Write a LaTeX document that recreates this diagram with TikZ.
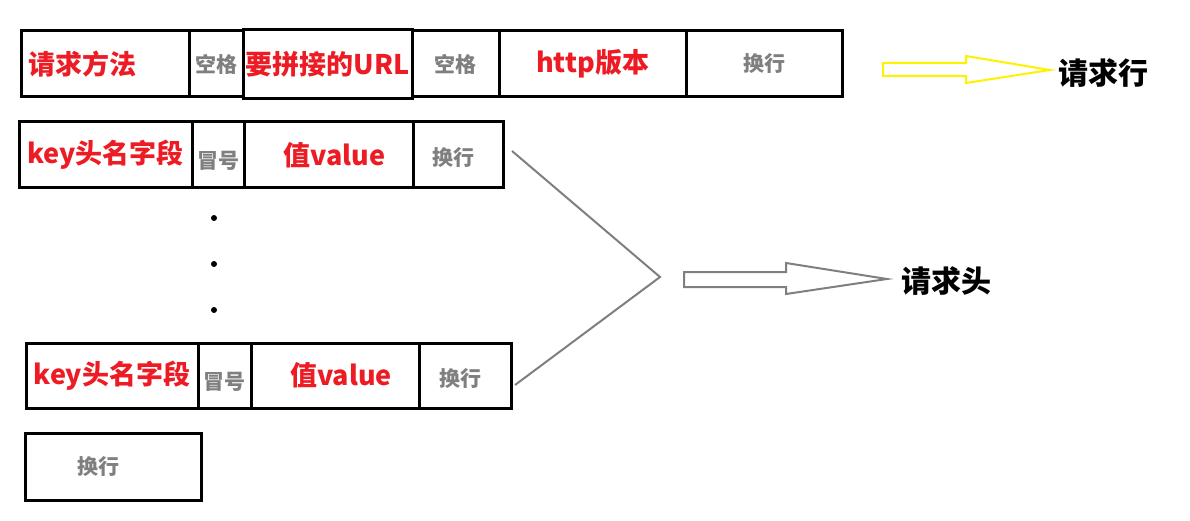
\documentclass[tikz,border=0pt]{standalone}
\usepackage{fontspec}
\setmainfont{Noto Sans CJK SC}
\usetikzlibrary{positioning,calc}
\definecolor{mred}{RGB}{237,28,36}
\definecolor{myellow}{RGB}{255,242,0}
\definecolor{mgray}{RGB}{127,127,127}

\begin{document}
\begin{tikzpicture}[
    x=1pt, y=-1pt,
    node distance=0pt,
    cell/.style={rectangle, draw, line width=3pt, inner sep=0pt, outer sep=0pt, minimum height=66pt},
    field/.style={cell, text=mred, font=\fontsize{27}{27}\selectfont\bfseries},
    sep/.style={cell, text=mgray, font=\fontsize{21}{21}\selectfont\bfseries},
    title/.style={anchor=west, inner sep=0pt, font=\fontsize{30}{30}\selectfont\bfseries},
    hollow/.style={line width=2pt, line join=miter},
    brace/.style={draw=mgray, line width=2pt}
]
\useasboundingbox (0,0) rectangle (1190,521);

% Request line
\node[field, minimum width=168pt, text width=154pt, align=left, anchor=north west] (method) at (21,31) {请求方法};
\node[sep, minimum width=54pt, right=of method] (space1) {空格};
\node[field, minimum width=169pt, minimum height=69pt, right=of space1] (url) {要拼接的URL};
\node[sep, minimum width=87pt, right=of url] (space2) {空格};
\node[field, minimum width=187pt, right=of space2] (version) {http版本};
\node[sep, minimum width=156pt, right=of version] (crlf1) {换行};

% Header lines
\node[field, minimum width=173pt, anchor=north west] (key1) at (19,122) {key头名字段};
\node[sep, minimum width=52pt, right=of key1] (colon1) {\raisebox{-14pt}[0pt][0pt]{冒号}};
\node[field, minimum width=169pt, right=of colon1] (value1) {\hspace*{12pt}值value};
\node[sep, minimum width=90pt, right=of value1] (crlf2) {\raisebox{-11pt}[0pt][0pt]{\hspace*{-10pt}换行}};

\foreach \y in {218,264,310}
    \fill (214,\y) circle (3pt);

\node[field, minimum width=172pt, minimum height=65pt, anchor=north west] (key2) at (26,343) {key头名字段};
\node[sep, minimum width=53pt, minimum height=65pt, right=of key2] (colon2) {\raisebox{-14pt}[0pt][0pt]{冒号}};
\node[field, minimum width=168pt, minimum height=65pt, right=of colon2] (value2) {\hspace*{12pt}值value};
\node[sep, minimum width=92pt, minimum height=65pt, right=of value2] (crlf3) {\raisebox{-11pt}[0pt][0pt]{\hspace*{-10pt}换行}};

% Empty line
\node[sep, minimum width=176pt, minimum height=67pt, anchor=north west] (crlf4) at (25,433) {\hspace*{-30pt}换行};

% Titles
\node[title] (linetitle) at (1058,73) {请求行};
\node[title] (headtitle) at (901,281) {请求头};

% Arrows
\draw[hollow, draw=myellow] (883,63) -- (966,63) -- (966,56) -- (1050,70) -- (966,83) -- (966,76) -- (883,76) -- cycle;
\coordinate (join) at (660,277);
\draw[brace] ($(crlf2.east)+(9,-4)$) -- (join) -- ($(crlf3.east)+(4,9.5)$);
\draw[hollow, draw=mgray] (684,272) -- (786,272) -- (786,263) -- (887,279) -- (786,294) -- (786,287) -- (684,287) -- cycle;

\end{tikzpicture}
\end{document}
